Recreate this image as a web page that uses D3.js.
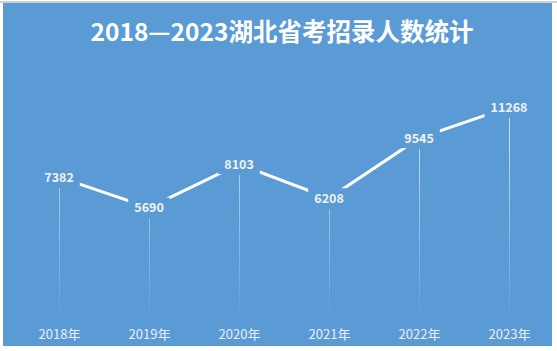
<!DOCTYPE html>
<meta charset="utf-8">
<style>
  body { margin: 0; background: #fff; }
  text { font-family: "Noto Sans CJK SC", "Noto Sans", sans-serif; }
</style>
<svg width="557" height="351"></svg>
<script src="https://d3js.org/d3.v7.min.js"></script>
<script>
var years = ["2018年", "2019年", "2020年", "2021年", "2022年", "2023年"];
var values = [7382, 5690, 8103, 6208, 9545, 11268];
var title = "2018—2023湖北省考招录人数统计";

var bg = "#5b9bd5";
var svg = d3.select("svg");

// frame
svg.append("rect").attr("x", 0).attr("y", 1).attr("width", 557).attr("height", 2).attr("fill", "#d0d0d0");
svg.append("rect").attr("x", 3).attr("y", 3).attr("width", 549).attr("height", 343).attr("fill", bg);

var x = d3.scalePoint().domain(years).range([59, 509]);
var y = d3.scaleLinear().domain([0, 12000]).range([310, 94]);

var data = years.map(function(d, i) { return {year: d, value: values[i]}; });

var defs = svg.append("defs");
var grad = defs.append("linearGradient")
    .attr("id", "drop")
    .attr("gradientUnits", "userSpaceOnUse")
    .attr("x1", 0).attr("x2", 0).attr("y1", 110).attr("y2", 310);
grad.append("stop").attr("offset", "0%").attr("stop-color", "#fff").attr("stop-opacity", 0.75);
grad.append("stop").attr("offset", "100%").attr("stop-color", "#fff").attr("stop-opacity", 0.05);

// drop lines
svg.append("g").selectAll("line")
  .data(data)
  .join("line")
    .attr("x1", function(d) { return x(d.year) + 0.5; })
    .attr("x2", function(d) { return x(d.year) + 0.5; })
    .attr("y1", function(d) { return y(d.value) + 11; })
    .attr("y2", y(0))
    .attr("stroke", "url(#drop)")
    .attr("stroke-width", 1);

// line
var line = d3.line()
    .x(function(d) { return x(d.year); })
    .y(function(d) { return y(d.value); });

svg.append("path")
    .datum(data)
    .attr("fill", "none")
    .attr("stroke", "#fff")
    .attr("stroke-width", 3)
    .attr("d", line);

// labels with background boxes that cut the line
var lab = svg.append("g").selectAll("g")
  .data(data)
  .join("g")
    .attr("transform", function(d) { return "translate(" + x(d.year) + "," + y(d.value) + ")"; });

lab.append("rect")
    .attr("x", function(d) { return -(String(d.value).length * 3.7 + 6); })
    .attr("y", -10)
    .attr("width", function(d) { return 2 * (String(d.value).length * 3.7 + 6); })
    .attr("height", 20)
    .attr("fill", bg);

lab.append("text")
    .attr("text-anchor", "middle")
    .attr("dy", "0.36em")
    .attr("fill", "#f2f2f2")
    .style("font-size", "12.5px")
    .style("font-weight", "bold")
    .text(function(d) { return d.value; });

// x labels
svg.append("g")
    .attr("transform", "translate(0," + y(0) + ")")
    .call(d3.axisBottom(x).tickSize(0).tickPadding(20))
    .call(function(g) { g.select(".domain").remove(); })
    .selectAll("text")
    .attr("fill", "#e8eef6")
    .style("font-size", "13px")
    .style("font-family", "'Noto Sans CJK SC', sans-serif");

svg.append("text")
    .attr("x", 282)
    .attr("y", 41)
    .attr("text-anchor", "middle")
    .attr("fill", "#fff")
    .style("font-size", "24.5px")
    .style("font-weight", "bold")
    .text(title);
</script>
